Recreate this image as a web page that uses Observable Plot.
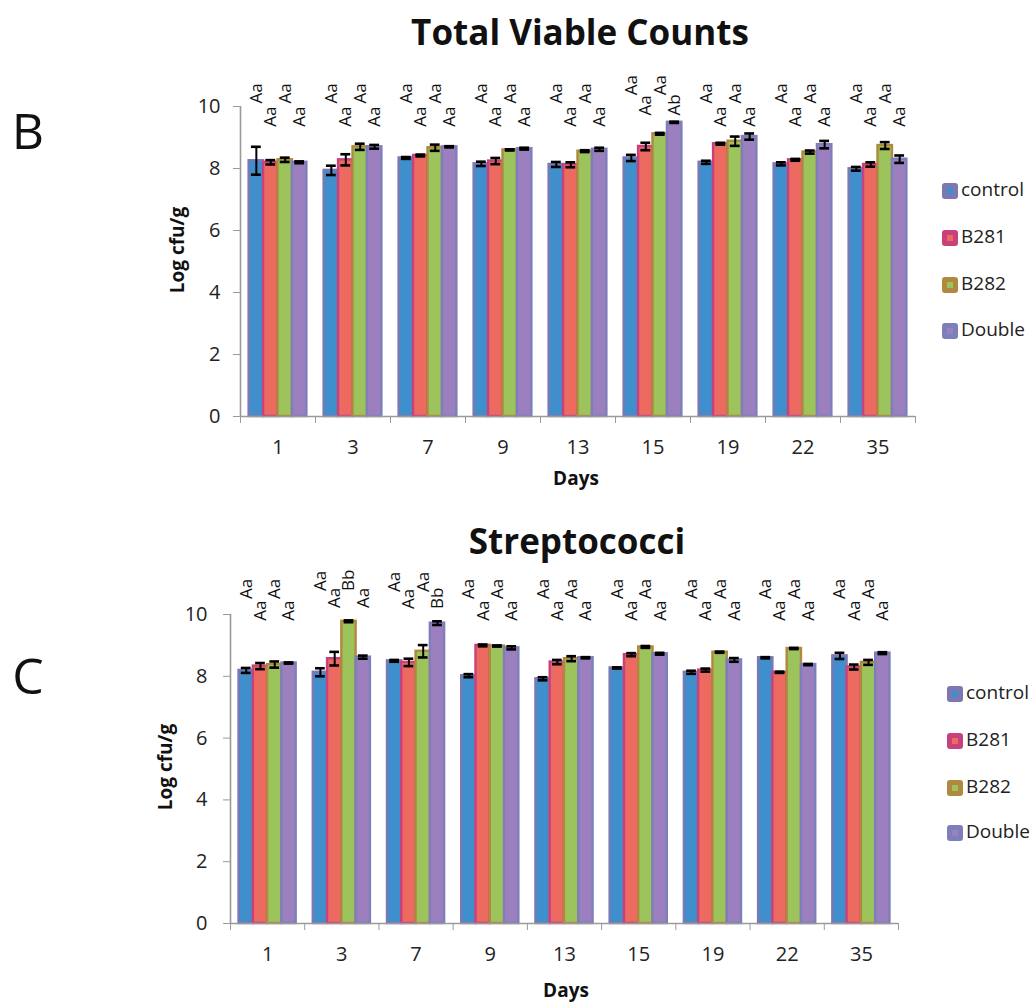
<!DOCTYPE html>
<html><head><meta charset="utf-8">
<script src="https://cdn.jsdelivr.net/npm/d3@7"></script>
<script src="https://cdn.jsdelivr.net/npm/@observablehq/plot@0.6"></script>
<style>
body{margin:0;background:#fff;font-family:"Open Sans",Lato,sans-serif;}
#page{position:relative;width:1033px;height:1003px;overflow:hidden;background:#fff;}
.t{position:absolute;white-space:nowrap;color:#111;line-height:1;}
.chart{position:absolute;left:0;}
svg [aria-label="y-axis tick"], svg [aria-label="x-axis tick"]{color:#9a9a9a;}
svg [aria-label="y-axis"] line, svg [aria-label="x-axis"] line{stroke:#9a9a9a;}
.sw{position:absolute;width:16px;height:16px;border-radius:3px;}
.sw i{position:absolute;left:5px;top:5px;width:6px;height:6px;}
</style></head><body><div id="page"></div>
<script>
// ---------- data ----------
const days = ["1","3","7","9","13","15","19","22","35"];
const series = ["control","B281","B282","Double"];

// Total Viable Counts (Log cfu/g)
const tvcControl    = [8.25, 7.94, 8.34, 8.15, 8.13, 8.34, 8.20, 8.15, 7.99];
const tvcControlErr = [0.45, 0.15, 0.03, 0.07, 0.08, 0.10, 0.05, 0.05, 0.06];
const tvcB281       = [8.20, 8.28, 8.42, 8.24, 8.12, 8.71, 8.80, 8.28, 8.13];
const tvcB281Err    = [0.07, 0.18, 0.03, 0.10, 0.08, 0.12, 0.03, 0.03, 0.07];
const tvcB282       = [8.28, 8.70, 8.67, 8.60, 8.56, 9.12, 8.88, 8.53, 8.74];
const tvcB282Err    = [0.07, 0.10, 0.10, 0.02, 0.03, 0.03, 0.15, 0.05, 0.11];
const tvcDouble     = [8.20, 8.70, 8.70, 8.64, 8.62, 9.49, 9.03, 8.77, 8.30];
const tvcDoubleErr  = [0.03, 0.06, 0.02, 0.03, 0.05, 0.02, 0.10, 0.12, 0.12];
const tvcLetControl = ["Aa","Aa","Aa","Aa","Aa","Aa","Aa","Aa","Aa"];
const tvcLetB281    = ["Aa","Aa","Aa","Aa","Aa","Aa","Aa","Aa","Aa"];
const tvcLetB282    = ["Aa","Aa","Aa","Aa","Aa","Aa","Aa","Aa","Aa"];
const tvcLetDouble  = ["Aa","Aa","Aa","Aa","Aa","Ab","Aa","Aa","Aa"];

// Streptococci (Log cfu/g)
const strControl    = [8.19, 8.13, 8.50, 8.02, 7.92, 8.27, 8.13, 8.60, 8.66];
const strControlErr = [0.08, 0.13, 0.03, 0.05, 0.05, 0.02, 0.05, 0.02, 0.10];
const strB281       = [8.33, 8.57, 8.45, 9.00, 8.46, 8.70, 8.20, 8.13, 8.30];
const strB281Err    = [0.10, 0.22, 0.12, 0.03, 0.07, 0.05, 0.05, 0.02, 0.08];
const strB282       = [8.38, 9.78, 8.81, 8.98, 8.57, 8.95, 8.78, 8.90, 8.45];
const strB282Err    = [0.10, 0.03, 0.20, 0.02, 0.08, 0.03, 0.02, 0.02, 0.08];
const strDouble     = [8.43, 8.62, 9.72, 8.92, 8.60, 8.73, 8.53, 8.38, 8.75];
const strDoubleErr  = [0.02, 0.05, 0.06, 0.05, 0.02, 0.03, 0.06, 0.02, 0.03];
const strLetControl = ["Aa","Aa","Aa","Aa","Aa","Aa","Aa","Aa","Aa"];
const strLetB281    = ["Aa","Aa","Aa","Aa","Aa","Aa","Aa","Aa","Aa"];
const strLetB282    = ["Aa","Bb","Aa","Aa","Aa","Aa","Aa","Aa","Aa"];
const strLetDouble  = ["Aa","Aa","Bb","Aa","Aa","Aa","Aa","Aa","Aa"];

const fills   = {control:"#3f8fcd", B281:"#ec6a5f", B282:"#9dc35c", Double:"#9c7fbe"};
const strokes = {control:"#7b78b3", B281:"#c8417e", B282:"#b0883e", Double:"#7d7fba"};

// ---------- helpers ----------
const page = document.getElementById("page");
function addText(txt, cx, cy, size, weight, rot) {
  const d = document.createElement("div");
  d.className = "t";
  d.textContent = txt;
  d.style.left = cx + "px"; d.style.top = cy + "px";
  d.style.fontSize = size + "px"; d.style.fontWeight = weight;
  d.style.transform = `translate(-50%,-50%) rotate(${rot||0}deg)`;
  page.appendChild(d);
}
function addLegend(x, ys) {
  series.forEach((s, k) => {
    const sw = document.createElement("div");
    sw.className = "sw";
    sw.style.left = x + "px"; sw.style.top = (ys[k] - 8) + "px";
    sw.style.background = strokes[s];
    const inner = document.createElement("i");
    inner.style.background = fills[s];
    sw.appendChild(inner);
    page.appendChild(sw);
    const t = document.createElement("div");
    t.className = "t"; t.textContent = s;
    t.style.left = (x + 19) + "px"; t.style.top = (ys[k] - 11) + "px";
    t.style.fontSize = "19px"; t.style.color = "#222";
    page.appendChild(t);
  });
}

const groupPad = 0.115;
const barW = (1 - 2 * groupPad) / 4;

function makeChart(opts) {
  const {vals, errs, lets, top, height, mLeft, mRight, mTop, mBottom, hiBase, hiOff, loBase, loOff, tickPad} = opts;
  const rows = [];
  days.forEach((d, i) => series.forEach((s, k) => {
    const x1 = i + groupPad + k * barW;
    rows.push({day: d, i, s, k, x1, x2: x1 + barW, xc: x1 + barW / 2,
               v: vals[k][i], e: errs[k][i], letter: lets[k][i]});
  }));
  const gmax = days.map((d, i) => d3.max(rows.filter(r => r.i === i), r => r.v + r.e));
  rows.forEach(r => {
    r.ly = (r.k % 2 === 0) ? Math.max(hiBase, gmax[r.i] + hiOff) : Math.max(loBase, gmax[r.i] + loOff);
  });
  const cap = barW * 0.34;
  const svg = Plot.plot({
    width: 1033, height,
    marginLeft: mLeft, marginRight: mRight, marginTop: mTop, marginBottom: mBottom,
    style: {fontFamily: "'Open Sans', Lato, sans-serif", fontSize: "20px", color: "#222", background: "transparent", overflow: "visible"},
    x: {domain: [0, days.length], ticks: d3.range(0, days.length + 1), tickFormat: () => "", tickSize: 7, label: null},
    y: {domain: [0, 10], ticks: [0, 2, 4, 6, 8, 10], tickSize: 7, tickPadding: tickPad, label: null},
    marks: [
      Plot.rectY(rows, {x1: "x1", x2: "x2", y1: 0, y2: "v", fill: r => fills[r.s], stroke: r => strokes[r.s], strokeWidth: 2.4}),
      Plot.ruleX([0], {y1: 0, y2: 10, stroke: "#9a9a9a", strokeWidth: 1.6}),
      Plot.ruleY([0], {x1: 0, x2: days.length, stroke: "#9a9a9a", strokeWidth: 1.6}),
      Plot.ruleX(rows, {x: "xc", y1: r => r.v - r.e, y2: r => r.v + r.e, stroke: "#000", strokeWidth: 2}),
      Plot.ruleY(rows, {y: r => r.v + r.e, x1: r => r.xc - cap, x2: r => r.xc + cap, stroke: "#000", strokeWidth: 2.6}),
      Plot.ruleY(rows, {y: r => r.v - r.e, x1: r => r.xc - cap, x2: r => r.xc + cap, stroke: "#000", strokeWidth: 2.6}),
      Plot.text(rows, {x: "xc", y: "ly", text: "letter", rotate: -90, textAnchor: "start", fontSize: 17, fill: "#111"}),
      Plot.text(days, {x: (d, i) => i + 0.5, y: 0, text: d => d, dy: 31, fontSize: 20, fill: "#222"})
    ]
  });
  svg.classList.add("chart");
  svg.style.top = top + "px";
  page.appendChild(svg);
}

// ---------- top chart ----------
makeChart({
  vals: [tvcControl, tvcB281, tvcB282, tvcDouble],
  errs: [tvcControlErr, tvcB281Err, tvcB282Err, tvcDoubleErr],
  lets: [tvcLetControl, tvcLetB281, tvcLetB282, tvcLetDouble],
  top: 0, height: 500, mLeft: 240, mRight: 118, mTop: 106, mBottom: 84,
  hiBase: 10.1, hiOff: 0.85, loBase: 9.35, loOff: 0.2, tickPad: 13
});
// ---------- bottom chart ----------
makeChart({
  vals: [strControl, strB281, strB282, strDouble],
  errs: [strControlErr, strB281Err, strB282Err, strDoubleErr],
  lets: [strLetControl, strLetB281, strLetB282, strLetDouble],
  top: 500, height: 503, mLeft: 230, mRight: 135, mTop: 114, mBottom: 80,
  hiBase: 10.5, hiOff: 0.95, loBase: 9.8, loOff: 0.4, tickPad: 16
});

// titles & labels
addText("Total Viable Counts", 580, 31, 35, 700);
addText("Streptococci", 577, 540, 35, 700);
addText("B", 28, 130, 50, 400);
addText("C", 28, 675, 50, 400);
addText("Log cfu/g", 177, 250, 19, 700, -90);
addText("Log cfu/g", 165, 767, 19, 700, -90);
addText("Days", 576, 478, 19, 700);
addText("Days", 566, 990, 19, 700);
addLegend(942, [191, 238, 285, 331]);
addLegend(947, [694, 741, 788, 833]);
</script></body></html>
